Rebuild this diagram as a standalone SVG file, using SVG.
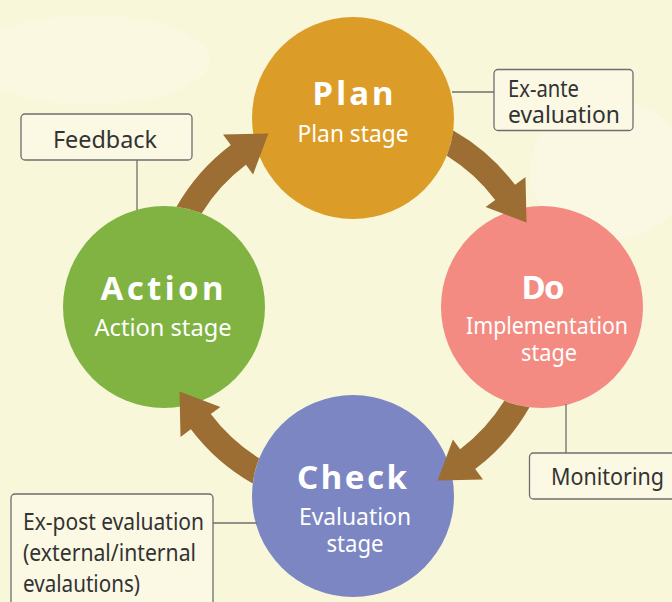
<svg xmlns="http://www.w3.org/2000/svg" width="672" height="602" viewBox="0 0 672 602">
<style>
.title{font-family:"Noto Sans","Open Sans",sans-serif;font-weight:bold;font-size:33px;fill:#ffffff;text-anchor:middle}
.sub{font-family:"Noto Sans","Open Sans",sans-serif;font-size:24px;fill:#ffffff;text-anchor:middle}
.lbl{font-family:"Noto Sans","Open Sans",sans-serif;font-size:23px;fill:#333333}
.box{fill:#fbf9e3;stroke:#6e6e6e;stroke-width:1.3}
.line{stroke:#6e6e6e;stroke-width:1.3;fill:none}
.arrow{fill:#9c6e33}
</style>
<defs>
<path id="arr" class="arrow" d="M 453.3,130.5 A 203 203 0 0 1 515.1,184.8 L 525.5,177.0 L 526.5,222.4 L 485.6,207.1 L 495.2,199.9 A 178 178 0 0 0 446.8,155.7 A 101 101 0 0 0 453.3,130.5 Z"/>
</defs>
<rect width="672" height="602" fill="#f9f7da"/>
<ellipse cx="90" cy="60" rx="120" ry="45" fill="#fbf9e6" opacity="0.5"/>
<ellipse cx="610" cy="170" rx="80" ry="70" fill="#fcfaea" opacity="0.5"/>
<g id="plan">
<circle cx="353" cy="118" r="101" fill="#dc9d28"/>
<text class="title" x="353" y="105" textLength="81">Plan</text>
<text class="sub" x="353" y="142" textLength="111" lengthAdjust="spacingAndGlyphs">Plan stage</text>
</g>
<g id="do">
<circle cx="542" cy="307" r="101" fill="#f38b82"/>
<text class="title" x="543" y="299" textLength="43">Do</text>
<text class="sub" x="547" y="334" textLength="162" lengthAdjust="spacingAndGlyphs">Implementation</text>
<text class="sub" x="549" y="361" textLength="56" lengthAdjust="spacingAndGlyphs">stage</text>
</g>
<g id="check">
<circle cx="353" cy="496" r="101" fill="#7b86c3"/>
<text class="title" x="352" y="489" textLength="110">Check</text>
<text class="sub" x="355" y="525" textLength="112" lengthAdjust="spacingAndGlyphs">Evaluation</text>
<text class="sub" x="355" y="552" textLength="57" lengthAdjust="spacingAndGlyphs">stage</text>
</g>
<g id="action">
<circle cx="164" cy="307" r="101" fill="#80b341"/>
<text class="title" x="162" y="300" textLength="123">Action</text>
<text class="sub" x="163" y="336" textLength="137" lengthAdjust="spacingAndGlyphs">Action stage</text>
</g>
<g id="connectors">
<use href="#arr"/>
<use href="#arr" transform="rotate(90 353 307)"/>
<use href="#arr" transform="rotate(180 353 307)"/>
<use href="#arr" transform="rotate(270 353 307)"/>
<line class="line" x1="452" y1="92" x2="494" y2="92"/>
<line class="line" x1="137" y1="160" x2="137" y2="210"/>
<line class="line" x1="566" y1="404" x2="566" y2="453"/>
<line class="line" x1="213" y1="523" x2="257" y2="523"/>
</g>
<g id="exante">
<rect class="box" x="494" y="69.5" width="139" height="61" rx="4"/>
<text class="lbl" x="508" y="97" textLength="71" lengthAdjust="spacingAndGlyphs">Ex-ante</text>
<text class="lbl" x="508" y="123" textLength="112" lengthAdjust="spacingAndGlyphs">evaluation</text>
</g>
<g id="feedback">
<rect class="box" x="21" y="114" width="171" height="46" rx="4"/>
<text class="lbl" x="53" y="148" textLength="104" lengthAdjust="spacingAndGlyphs">Feedback</text>
</g>
<g id="monitoring">
<rect class="box" x="529.5" y="453" width="152" height="46" rx="4"/>
<text class="lbl" x="551" y="485" textLength="113" lengthAdjust="spacingAndGlyphs">Monitoring</text>
</g>
<g id="expost">
<rect class="box" x="11" y="494" width="202" height="120" rx="4"/>
<text class="lbl" x="23" y="530" textLength="181" lengthAdjust="spacingAndGlyphs">Ex-post evaluation</text>
<text class="lbl" x="23" y="561" textLength="173" lengthAdjust="spacingAndGlyphs">(external/internal</text>
<text class="lbl" x="23" y="592" textLength="117" lengthAdjust="spacingAndGlyphs">evalautions)</text>
</g>
</svg>
